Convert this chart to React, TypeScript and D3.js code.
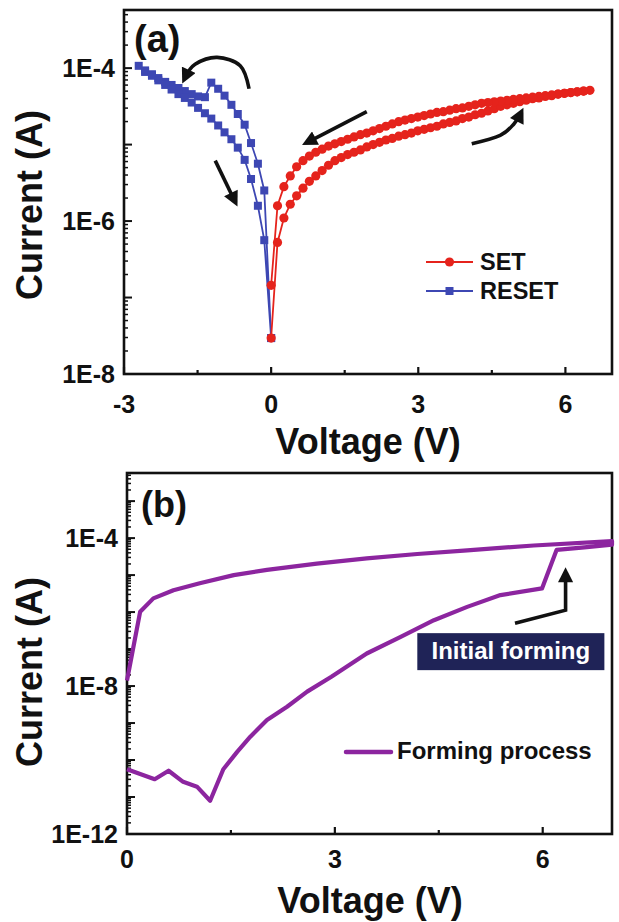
import { useEffect, useRef } from 'react';
import { select, scaleLinear, scaleLog, line, curveCardinal, curveLinear } from 'd3';

// (a) SET sweep: 0 -> 6.5 V (forward) and 6.5 -> 0 V (return), log10 of current
const setVoltage = [
  0, 0.13, 0.26, 0.39, 0.52, 0.65, 0.78, 0.91, 1.04, 1.17, 1.3, 1.43, 1.56, 1.69, 1.82, 1.95, 2.08,
  2.21, 2.34, 2.47, 2.6, 2.73, 2.86, 2.99, 3.12, 3.25, 3.38, 3.51, 3.64, 3.77, 3.9, 4.03, 4.16, 4.29,
  4.42, 4.55, 4.68, 4.81, 4.94, 5.07, 5.2, 5.33, 5.46, 5.59, 5.72, 5.85, 5.98, 6.11, 6.24, 6.37, 6.5,
];
const setForwardLogI = [
  -7.53, -6.28, -5.96, -5.78, -5.67, -5.57, -5.48, -5.41, -5.34, -5.27, -5.21, -5.17, -5.13, -5.1,
  -5.07, -5.03, -5.0, -4.97, -4.94, -4.92, -4.89, -4.87, -4.85, -4.82, -4.8, -4.78, -4.76, -4.73,
  -4.71, -4.69, -4.66, -4.64, -4.61, -4.59, -4.56, -4.53, -4.5, -4.48, -4.46, -4.44, -4.42, -4.4,
  -4.39, -4.37, -4.36, -4.34, -4.33, -4.32, -4.31, -4.3, -4.29,
];
const setReturnLogI = [
  -6.84, -5.8, -5.55, -5.41, -5.29, -5.21, -5.15, -5.1, -5.06, -5.02, -4.99, -4.96, -4.93, -4.9,
  -4.87, -4.85, -4.82, -4.79, -4.76, -4.73, -4.7, -4.68, -4.66, -4.64, -4.62, -4.6, -4.58, -4.57,
  -4.55, -4.53, -4.52, -4.5, -4.48, -4.46, -4.45, -4.44, -4.43, -4.42, -4.41, -4.4, -4.39, -4.38,
  -4.37, -4.36, -4.35, -4.34, -4.33, -4.32, -4.31, -4.3, -4.29,
];

// (a) RESET sweep: 0 -> -2.7 V and back
const resetVoltage = [
  0, -0.14, -0.27, -0.41, -0.54, -0.68, -0.81, -0.95, -1.08, -1.22, -1.35, -1.49, -1.62, -1.76,
  -1.89, -2.03, -2.16, -2.3, -2.43, -2.57, -2.7,
];
const resetForwardLogI = [
  -7.53, -5.6, -5.25, -4.98, -4.74, -4.6, -4.48, -4.36, -4.27, -4.19, -4.38, -4.37, -4.34, -4.3,
  -4.26, -4.22, -4.18, -4.13, -4.08, -4.03, -3.97,
];
const resetReturnLogI = [
  -7.53, -6.25, -5.8, -5.45, -5.2, -5.04, -4.93, -4.84, -4.75, -4.66, -4.59, -4.52, -4.45, -4.39,
  -4.34, -4.28, -4.22, -4.16, -4.1, -4.05, -3.97,
];

// (b) forming process
const formForwardV = [
  0, 0.4, 0.6, 0.81, 1.01, 1.2, 1.39, 1.59, 1.78, 2.02, 2.31, 2.6, 2.95, 3.46, 3.95, 4.43, 4.91,
  5.39, 5.99, 6.2, 6.6, 7.0,
];
const formForwardLogI = [
  -10.25, -10.52, -10.29, -10.59, -10.72, -11.1, -10.25, -9.78, -9.37, -8.92, -8.56, -8.15, -7.75,
  -7.12, -6.67, -6.22, -5.86, -5.54, -5.36, -4.32, -4.25, -4.18,
];
const formReturnV = [7.0, 5.87, 4.91, 4.19, 3.46, 2.74, 2.02, 1.54, 1.05, 0.67, 0.38, 0.19, 0];
const formReturnLogI = [
  -4.08, -4.2, -4.33, -4.43, -4.55, -4.69, -4.86, -5.0, -5.22, -5.41, -5.63, -5.99, -7.85,
];

// ticks
const aXTicks = [-3, 0, 3, 6];
const aXMinorTicks = [-1.5, 1.5, 4.5];
const aXTickLabels = ['-3', '0', '3', '6'];
const aYTickValues = [1e-4, 1e-6, 1e-8];
const aYTickLabels = ['1E-4', '1E-6', '1E-8'];
const bXTicks = [0, 3, 6];
const bXMinorTicks = [1.5, 4.5];
const bXTickLabels = ['0', '3', '6'];
const bYTickValues = [1e-4, 1e-8, 1e-12];
const bYTickLabels = ['1E-4', '1E-8', '1E-12'];

// annotation arrows, [V, log10 I]
const aArrowTurn = [[-0.45, -4.27], [-0.63, -3.97], [-1.1, -3.86], [-1.55, -3.95], [-1.76, -4.13]];
const aArrowSet = [[1.95, -4.57], [0.74, -4.97]];
const aArrowReset = [[-1.14, -5.21], [-0.74, -5.74]];
const aArrowUp = [[4.09, -4.99], [4.67, -4.88], [4.95, -4.73], [5.09, -4.59]];
const bArrow = [[5.6, -6.3], [6.33, -5.95], [6.33, -4.95]];

const FONT = "'Liberation Sans', Arial, Helvetica, sans-serif";
const RED = '#e5231c';
const BLUE = '#3d47b3';
const PURPLE = '#8c259f';
const INK = '#111';

const pts = (vs, logs) => vs.map((v, i) => [v, 10 ** logs[i]]);

function drawAxes(g, x, y, o) {
  const [x0, x1] = x.range();
  const [y0, y1] = y.range();
  const [lo, hi] = y.domain();

  // log minor ticks
  const yt = [];
  for (let e = Math.floor(Math.log10(lo)); e <= Math.ceil(Math.log10(hi)); e++) {
    for (let m = 1; m <= 9; m++) {
      const v = m * 10 ** e;
      if (v >= lo * 0.999 && v <= hi) yt.push({ v, major: m === 1 });
    }
  }
  g.selectAll('.ytick')
    .data(yt)
    .join('line')
    .attr('class', 'ytick')
    .attr('x1', x0)
    .attr('x2', (d) => x0 + (d.major ? 8 : 4))
    .attr('y1', (d) => y(d.v))
    .attr('y2', (d) => y(d.v))
    .attr('stroke', INK)
    .attr('stroke-width', (d) => (d.major ? 2 : 1.5));

  const xt = o.xTicks.map((v) => ({ v, major: true })).concat(o.xMinor.map((v) => ({ v, major: false })));
  g.selectAll('.xtick')
    .data(xt)
    .join('line')
    .attr('class', 'xtick')
    .attr('x1', (d) => x(d.v))
    .attr('x2', (d) => x(d.v))
    .attr('y1', y0)
    .attr('y2', (d) => y0 - (d.major ? 7 : 4))
    .attr('stroke', INK)
    .attr('stroke-width', 2.2);

  g.append('rect')
    .attr('x', x0)
    .attr('y', y1)
    .attr('width', x1 - x0)
    .attr('height', y0 - y1)
    .attr('fill', 'none')
    .attr('stroke', INK)
    .attr('stroke-width', 2.6);

  g.selectAll('.ylab')
    .data(o.yValues)
    .join('text')
    .attr('class', 'ylab')
    .attr('x', x0 - 9)
    .attr('y', (d) => y(d))
    .attr('dy', '0.36em')
    .attr('text-anchor', 'end')
    .attr('font-size', o.tickSize)
    .text((d, i) => o.yLabels[i]);

  g.selectAll('.xlab')
    .data(o.xTicks)
    .join('text')
    .attr('class', 'xlab')
    .attr('x', (d) => x(d))
    .attr('y', y0 + o.xLabelGap)
    .attr('text-anchor', 'middle')
    .attr('font-size', o.tickSize)
    .text((d, i) => o.xLabels[i]);
}

export default function App() {
  const svgRef = useRef(null);

  useEffect(() => {
    const svg = select(svgRef.current);
    svg.selectAll('*').remove();
    svg.attr('font-family', FONT).attr('font-weight', 'bold').attr('fill', INK);

    svg.append('rect').attr('width', 619).attr('height', 922).attr('fill', '#fff');

    const marker = svg
      .append('defs')
      .append('marker')
      .attr('id', 'arrowhead')
      .attr('viewBox', '0 0 10 10')
      .attr('refX', 6)
      .attr('refY', 5)
      .attr('markerWidth', 4.4)
      .attr('markerHeight', 4.2)
      .attr('orient', 'auto');
    marker.append('path').attr('d', 'M0,0 L10,5 L0,10 Z').attr('fill', INK);

    // ---------- panel (a) ----------
    const xa = scaleLinear().domain([-3, 6.95]).range([124, 612]);
    const ya = scaleLog().domain([1e-8, 10 ** -3.24]).range([374, 10]);
    const ga = svg.append('g');
    drawAxes(ga, xa, ya, {
      xTicks: aXTicks,
      xMinor: aXMinorTicks,
      xLabels: aXTickLabels,
      yValues: aYTickValues,
      yLabels: aYTickLabels,
      tickSize: 25,
      xLabelGap: 39,
    });

    const la = line().x((d) => xa(d[0])).y((d) => ya(d[1]));

    // RESET (blue squares)
    const resetPts = pts(resetVoltage, resetForwardLogI).concat(
      pts(resetVoltage, resetReturnLogI).reverse().slice(1)
    );
    ga.append('path')
      .datum(resetPts)
      .attr('d', la)
      .attr('fill', 'none')
      .attr('stroke', BLUE)
      .attr('stroke-width', 1.8);
    ga.selectAll('.rsq')
      .data(resetPts)
      .join('rect')
      .attr('class', 'rsq')
      .attr('x', (d) => xa(d[0]) - 4)
      .attr('y', (d) => ya(d[1]) - 4)
      .attr('width', 8)
      .attr('height', 8)
      .attr('fill', BLUE);

    // SET (red circles)
    const setPts = pts(setVoltage, setForwardLogI).concat(
      pts(setVoltage, setReturnLogI).reverse().slice(1)
    );
    ga.append('path')
      .datum(setPts)
      .attr('d', la)
      .attr('fill', 'none')
      .attr('stroke', RED)
      .attr('stroke-width', 1.8);
    ga.selectAll('.sc')
      .data(setPts)
      .join('circle')
      .attr('class', 'sc')
      .attr('cx', (d) => xa(d[0]))
      .attr('cy', (d) => ya(d[1]))
      .attr('r', 4.6)
      .attr('fill', RED);

    // arrows
    const arrowLine = (curve) =>
      line()
        .x((d) => xa(d[0]))
        .y((d) => ya(10 ** d[1]))
        .curve(curve);
    [
      [aArrowTurn, curveCardinal],
      [aArrowSet, curveLinear],
      [aArrowReset, curveLinear],
      [aArrowUp, curveCardinal],
    ].forEach(([d, c]) => {
      ga.append('path')
        .attr('d', arrowLine(c)(d))
        .attr('fill', 'none')
        .attr('stroke', INK)
        .attr('stroke-width', 3.6)
        .attr('marker-end', 'url(#arrowhead)');
    });

    // legend (a)
    const lgA = ga.append('g');
    lgA.append('line').attr('x1', 426).attr('x2', 473).attr('y1', 262).attr('y2', 262).attr('stroke', RED).attr('stroke-width', 2);
    lgA.append('circle').attr('cx', 449.5).attr('cy', 262).attr('r', 4.6).attr('fill', RED);
    lgA.append('text').attr('x', 480).attr('y', 270).attr('font-size', 23.5).text('SET');
    lgA.append('line').attr('x1', 426).attr('x2', 473).attr('y1', 291).attr('y2', 291).attr('stroke', BLUE).attr('stroke-width', 2);
    lgA.append('rect').attr('x', 445.5).attr('y', 287).attr('width', 8).attr('height', 8).attr('fill', BLUE);
    lgA.append('text').attr('x', 480).attr('y', 299).attr('font-size', 23.5).text('RESET');

    ga.append('text').attr('x', 134).attr('y', 52).attr('font-size', 38).text('(a)');
    ga.append('text').attr('x', 368).attr('y', 454).attr('text-anchor', 'middle').attr('font-size', 36).text('Voltage (V)');
    ga.append('text')
      .attr('transform', 'translate(42,205) rotate(-90)')
      .attr('text-anchor', 'middle')
      .attr('font-size', 36)
      .text('Current (A)');

    // ---------- panel (b) ----------
    const xb = scaleLinear().domain([0, 7]).range([127, 612]);
    const yb = scaleLog().domain([1e-12, 10 ** -2.24]).range([834, 473]);
    const gb = svg.append('g');
    drawAxes(gb, xb, yb, {
      xTicks: bXTicks,
      xMinor: bXMinorTicks,
      xLabels: bXTickLabels,
      yValues: bYTickValues,
      yLabels: bYTickLabels,
      tickSize: 25,
      xLabelGap: 34,
    });

    const formPts = pts(formForwardV, formForwardLogI).concat(pts(formReturnV, formReturnLogI));
    gb.append('path')
      .datum(formPts)
      .attr('d', line().x((d) => xb(d[0])).y((d) => yb(d[1])))
      .attr('fill', 'none')
      .attr('stroke', PURPLE)
      .attr('stroke-width', 4.2)
      .attr('stroke-linejoin', 'round');

    gb.append('path')
      .attr('d', line().x((d) => xb(d[0])).y((d) => yb(10 ** d[1]))(bArrow))
      .attr('fill', 'none')
      .attr('stroke', INK)
      .attr('stroke-width', 3.6)
      .attr('marker-end', 'url(#arrowhead)');

    // "Initial forming" label box, placed in data units
    const bx0 = xb(4.19);
    const bx1 = xb(6.89);
    const by0 = yb(10 ** -6.57);
    const by1 = yb(10 ** -7.57);
    gb.append('rect')
      .attr('x', bx0)
      .attr('y', by0)
      .attr('width', bx1 - bx0)
      .attr('height', by1 - by0)
      .attr('fill', '#1f2357');
    gb.append('text')
      .attr('x', (bx0 + bx1) / 2)
      .attr('y', by0 + 26)
      .attr('text-anchor', 'middle')
      .attr('font-size', 24)
      .attr('fill', '#fff')
      .text('Initial forming');

    // legend (b)
    gb.append('line').attr('x1', 346).attr('x2', 391).attr('y1', 752).attr('y2', 752).attr('stroke', PURPLE).attr('stroke-width', 4.5).attr('stroke-linecap', 'round');
    gb.append('text').attr('x', 397).attr('y', 759).attr('font-size', 24).text('Forming process');

    gb.append('text').attr('x', 141).attr('y', 517).attr('font-size', 36).text('(b)');
    gb.append('text').attr('x', 370).attr('y', 913).attr('text-anchor', 'middle').attr('font-size', 36).text('Voltage (V)');
    gb.append('text')
      .attr('transform', 'translate(42,672) rotate(-90)')
      .attr('text-anchor', 'middle')
      .attr('font-size', 36)
      .text('Current (A)');
  }, []);

  return (
    <svg
      ref={svgRef}
      width={619}
      height={922}
      style={{ position: 'absolute', left: 0, top: 0, display: 'block' }}
    />
  );
}
